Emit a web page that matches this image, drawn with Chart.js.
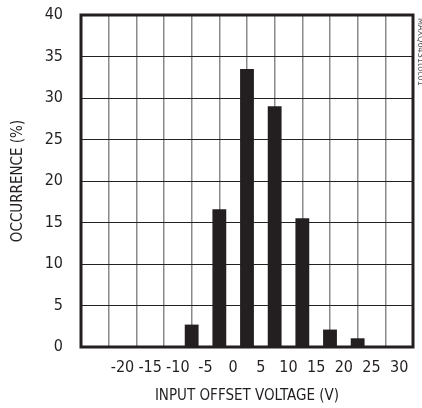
<!DOCTYPE html>
<html>
<head>
<meta charset="utf-8">
<script src="https://cdn.jsdelivr.net/npm/chart.js@4"></script>
<style>
  html, body { margin: 0; padding: 0; background: #fff; }
  #wrap { width: 422px; height: 408px; }
</style>
</head>
<body>
<div id="wrap"><canvas id="histChart" width="422" height="408"></canvas></div>
<script>
// histogram bins (bin centers, V) and occurrence (%)
const binCenters = [-22.5, -17.5, -12.5, -7.5, -2.5, 2.5, 7.5, 12.5, 17.5, 22.5, 27.5];
const occurrence = [0, 0, 0, 2.7, 16.6, 33.5, 29.0, 15.5, 2.1, 1.05, 0];

const xTicks = [-25, -20, -15, -10, -5, 0, 5, 10, 15, 20, 25, 30];
const yTicks = [0, 5, 10, 15, 20, 25, 30, 35, 40];

const INK = "#231f20";
const FONT = "'DejaVu Sans Condensed', 'Liberation Sans Narrow', sans-serif";

// thick frame round the plot + figure id on the right
const framePlugin = {
    id: "frame",
    afterDraw(chart) {
        const { ctx, chartArea } = chart;
        ctx.save();
        ctx.strokeStyle = INK;
        ctx.lineWidth = 3;
        ctx.strokeRect(chartArea.left, chartArea.top,
            chartArea.right - chartArea.left, chartArea.bottom - chartArea.top);

        ctx.translate(chartArea.right + 3, chartArea.top + 3);
        ctx.rotate(Math.PI / 2);
        ctx.fillStyle = "#555";
        ctx.font = "9px " + FONT;
        ctx.textBaseline = "bottom";
        ctx.fillText("MAXQ6431toc01", 0, 0);
        ctx.restore();
    },
};

const ctx = document.getElementById("histChart").getContext("2d");

new Chart(ctx, {
    type: "bar",
    data: {
        datasets: [
            {
                label: "Occurrence (%)",
                data: binCenters.map((x, i) => ({ x: x, y: occurrence[i] })),
                backgroundColor: INK,
                borderWidth: 0,
                barPercentage: 0.5,
                categoryPercentage: 1.0,
            },
        ],
    },
    options: {
        responsive: false,
        animation: false,
        layout: { padding: { top: 15, right: 9, left: 0, bottom: 0 } },
        plugins: {
            legend: { display: false },
            tooltip: { enabled: false },
        },
        scales: {
            x: {
                type: "linear",
                min: -25,
                max: 30,
                afterBuildTicks: (axis) => {
                    axis.ticks = xTicks.map((v) => ({ value: v }));
                },
                afterFit: (axis) => {
                    axis.height = 61;
                    axis.paddingLeft = 0;
                    axis.paddingRight = 0;
                },
                grid: { color: "#8a8a8a", lineWidth: 1.5, drawTicks: false },
                border: { display: false },
                ticks: {
                    padding: 11,
                    color: INK,
                    font: { family: FONT, size: 16 },
                    maxRotation: 0,
                    autoSkip: false,
                    callback: (v) => (v === -25 ? "" : String(v)),
                },
                title: {
                    display: true,
                    text: "INPUT OFFSET VOLTAGE (V)",
                    color: INK,
                    font: { family: FONT, size: 15 },
                    padding: { top: 0, bottom: 3 },
                },
            },
            y: {
                min: 0,
                max: 40,
                afterBuildTicks: (axis) => {
                    axis.ticks = yTicks.map((v) => ({ value: v }));
                },
                afterFit: (axis) => {
                    axis.width = 81;
                    axis.paddingTop = 0;
                    axis.paddingBottom = 0;
                },
                grid: { color: "#222", lineWidth: 1, drawTicks: false },
                border: { display: false },
                ticks: {
                    padding: 18,
                    color: INK,
                    font: { family: FONT, size: 16 },
                },
                title: {
                    display: true,
                    text: "OCCURRENCE (%)",
                    color: INK,
                    font: { family: FONT, size: 15 },
                    padding: { top: 9, bottom: 0 },
                },
            },
        },
    },
    plugins: [framePlugin],
});
</script>
</body>
</html>
